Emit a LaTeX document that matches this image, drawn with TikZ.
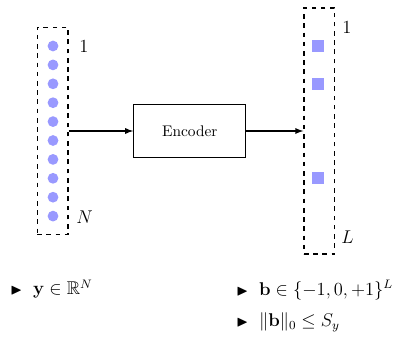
\documentclass[tikz,border=0pt]{standalone}
\usepackage{amsmath,amssymb,amsfonts}
\usepackage{xcolor}
\usepackage{tikz}
\usetikzlibrary{arrows, positioning}
\tikzstyle{arrow} = [thick,->,>=latex]
\tikzstyle{vecbox} = [rectangle, draw=black, thick, dashed, minimum width=20pt, inner sep=0pt]
\tikzstyle{coef} = [circle, fill=blue!40, minimum size=7pt, inner sep=0pt]
\tikzstyle{code} = [rectangle, fill=blue!40, minimum size=7.6pt, inner sep=0pt]
\tikzstyle{block} = [rectangle, draw=black, thick, minimum width=72.8pt, minimum height=34.5pt, text centered]
\tikzstyle{idx} = [anchor=west, inner sep=0pt, font=\large]
\newcommand{\bulletmark}{{\normalsize$\blacktriangleright$}\hspace{7pt}}

\begin{document}
\begin{tikzpicture}[x=0.65pt, y=-0.65pt]
\useasboundingbox (0,0) rectangle (401,340);

% Signal y
\node (yvec) [vecbox, minimum height=135pt] at (52.5,131) {};
\foreach \i in {0,...,9} {
  \node (y\i) [coef] at (53,46+18.9*\i) {};
}
\node (ytop) [idx] at (79,47) {$1$};
\node (ybot) [idx] at (76,217) {$N$};

% Encoder
\node (enc) [block, right=42pt of yvec] {Encoder};

% Code b
\node (bvec) [vecbox, minimum height=160pt, right=37pt of enc] {};
\node (b1) [code] at (318,46) {};
\node (b2) [code] at (318,84) {};
\node (b3) [code] at (318,178) {};
\node (btop) [idx] at (342,28) {$1$};
\node (bbot) [idx] at (341,237) {$L$};

% Relationships
\draw [arrow] (yvec) -- (enc);
\draw [arrow] (enc) -- (bvec);

% Constraints
\node (yset) [idx] at (10,289) {\bulletmark$\mathbf{y}\in\mathbb{R}^N$};
\node (bset) [idx] at (236,290) {\bulletmark$\mathbf{b}\in\{-1,0,+1\}^L$};
\node (bnorm) [idx] at (236,322) {\bulletmark$\|\mathbf{b}\|_0\leq S_y$};

\end{tikzpicture}
\end{document}
